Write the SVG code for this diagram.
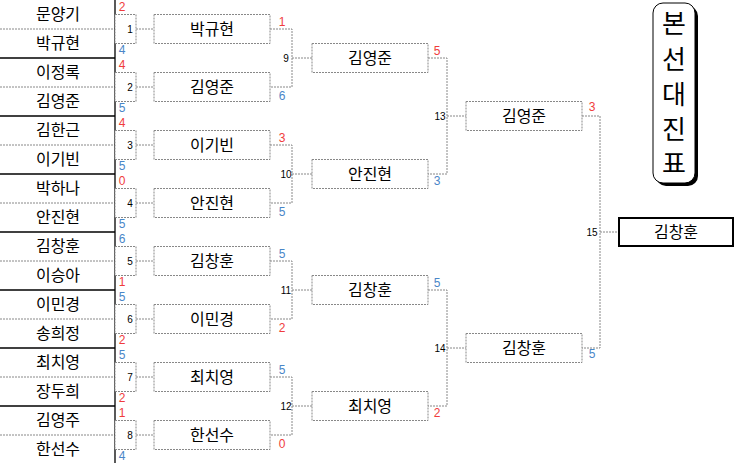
<svg xmlns="http://www.w3.org/2000/svg" width="740" height="463" viewBox="0 0 740 463">
<style>
.bg{fill:#fff}
.n{font-family:"Noto Sans CJK KR","Noto Sans",sans-serif;font-size:16px;text-anchor:middle;fill:#000}
.box{fill:#fff;stroke:#888;stroke-width:1;stroke-dasharray:2,1}
.c{fill:none;stroke:#888;stroke-width:1;stroke-dasharray:2,1}
.d{stroke:#888;stroke-width:1;stroke-dasharray:2,1}
.s{stroke:#000;stroke-width:1.3}
.no{font-family:"Liberation Sans",sans-serif;font-size:10px;text-anchor:middle;fill:#000}
.r{font-family:"Liberation Sans",sans-serif;font-size:12px;text-anchor:middle;fill:#f03c3c}
.b{font-family:"Liberation Sans",sans-serif;font-size:12px;text-anchor:middle;fill:#4a86c8}
.t{font-family:"Noto Sans CJK KR",sans-serif;font-size:26px;text-anchor:middle;fill:#000}
</style>
<rect class="bg" width="740" height="463"/>
<g id="grid">
<line class="d" x1="0" y1="29" x2="115" y2="29"/><line class="d" x1="0" y1="87" x2="115" y2="87"/><line class="d" x1="0" y1="145" x2="115" y2="145"/><line class="d" x1="0" y1="203" x2="115" y2="203"/><line class="d" x1="0" y1="261" x2="115" y2="261"/><line class="d" x1="0" y1="319" x2="115" y2="319"/><line class="d" x1="0" y1="377" x2="115" y2="377"/><line class="d" x1="0" y1="435" x2="115" y2="435"/>
<line class="s" x1="0" y1="58" x2="115" y2="58"/><line class="s" x1="0" y1="116" x2="115" y2="116"/><line class="s" x1="0" y1="174" x2="115" y2="174"/><line class="s" x1="0" y1="232" x2="115" y2="232"/><line class="s" x1="0" y1="290" x2="115" y2="290"/><line class="s" x1="0" y1="348" x2="115" y2="348"/><line class="s" x1="0" y1="406" x2="115" y2="406"/>
<line class="s" x1="115" y1="0" x2="115" y2="463"/>
</g>
<g id="players">
<text class="n" x="58" y="20">문양기</text><text class="n" x="58" y="49">박규현</text><text class="n" x="58" y="78">이정록</text><text class="n" x="58" y="107">김영준</text><text class="n" x="58" y="136">김한근</text><text class="n" x="58" y="165">이기빈</text><text class="n" x="58" y="194">박하나</text><text class="n" x="58" y="223">안진현</text><text class="n" x="58" y="252">김창훈</text><text class="n" x="58" y="281">이승아</text><text class="n" x="58" y="310">이민경</text><text class="n" x="58" y="339">송희정</text><text class="n" x="58" y="368">최치영</text><text class="n" x="58" y="397">장두희</text><text class="n" x="58" y="426">김영주</text><text class="n" x="58" y="455">한선수</text>
</g>
<g id="connectors">
<path class="c" d="M136,29H154M136,87H154M136,145H154M136,203H154M136,261H154M136,319H154M136,377H154M136,435H154"/>
<path class="c" d="M270,29H292V87H270M292,58H312M270,145H292V203H270M292,174H312M270,261H292V319H270M292,290H312M270,377H292V435H270M292,406H312"/>
<path class="c" d="M428,58H447V174H428M447,116H466M428,290H447V406H428M447,348H466"/>
<path class="c" d="M582,116H600V348H582M600,232H619"/>
</g>
<g id="r1">
<rect class="box" x="115" y="14.5" width="21" height="29"/><rect class="box" x="115" y="72.5" width="21" height="29"/><rect class="box" x="115" y="130.5" width="21" height="29"/><rect class="box" x="115" y="188.5" width="21" height="29"/><rect class="box" x="115" y="246.5" width="21" height="29"/><rect class="box" x="115" y="304.5" width="21" height="29"/><rect class="box" x="115" y="362.5" width="21" height="29"/><rect class="box" x="115" y="420.5" width="21" height="29"/>
<text class="no" x="130" y="33">1</text><text class="no" x="130" y="91">2</text><text class="no" x="130" y="149">3</text><text class="no" x="130" y="207">4</text><text class="no" x="130" y="265">5</text><text class="no" x="130" y="323">6</text><text class="no" x="130" y="381">7</text><text class="no" x="130" y="439">8</text>
<text class="r" x="122" y="11">2</text><text class="b" x="122" y="54">4</text>
<text class="r" x="122" y="69">4</text><text class="b" x="122" y="112">5</text>
<text class="r" x="122" y="127">4</text><text class="b" x="122" y="170">5</text>
<text class="r" x="122" y="185">0</text><text class="b" x="122" y="228">5</text>
<text class="b" x="122" y="243">6</text><text class="r" x="122" y="286">1</text>
<text class="b" x="122" y="301">5</text><text class="r" x="122" y="344">2</text>
<text class="b" x="122" y="359">5</text><text class="r" x="122" y="402">2</text>
<text class="r" x="122" y="417">1</text><text class="b" x="122" y="460">4</text>
</g>
<g id="w1">
<rect class="box" x="154" y="14.5" width="116" height="29"/><rect class="box" x="154" y="72.5" width="116" height="29"/><rect class="box" x="154" y="130.5" width="116" height="29"/><rect class="box" x="154" y="188.5" width="116" height="29"/><rect class="box" x="154" y="246.5" width="116" height="29"/><rect class="box" x="154" y="304.5" width="116" height="29"/><rect class="box" x="154" y="362.5" width="116" height="29"/><rect class="box" x="154" y="420.5" width="116" height="29"/>
<text class="n" x="212" y="35">박규현</text><text class="n" x="212" y="93">김영준</text><text class="n" x="212" y="151">이기빈</text><text class="n" x="212" y="209">안진현</text><text class="n" x="212" y="267">김창훈</text><text class="n" x="212" y="325">이민경</text><text class="n" x="212" y="383">최치영</text><text class="n" x="212" y="441">한선수</text>
</g>
<g id="r2">
<text class="no" x="286" y="62">9</text><text class="no" x="286" y="178">10</text><text class="no" x="286" y="294">11</text><text class="no" x="286" y="410">12</text>
<text class="r" x="282" y="26">1</text><text class="b" x="282" y="100">6</text>
<text class="r" x="282" y="142">3</text><text class="b" x="282" y="216">5</text>
<text class="b" x="282" y="258">5</text><text class="r" x="282" y="332">2</text>
<text class="b" x="282" y="374">5</text><text class="r" x="282" y="448">0</text>
<rect class="box" x="312" y="43.5" width="116" height="29"/><rect class="box" x="312" y="159.5" width="116" height="29"/><rect class="box" x="312" y="275.5" width="116" height="29"/><rect class="box" x="312" y="391.5" width="116" height="29"/>
<text class="n" x="370" y="64">김영준</text><text class="n" x="370" y="180">안진현</text><text class="n" x="370" y="296">김창훈</text><text class="n" x="370" y="412">최치영</text>
</g>
<g id="r3">
<text class="no" x="440" y="120">13</text><text class="no" x="440" y="352">14</text>
<text class="r" x="437" y="55">5</text><text class="b" x="437" y="185">3</text>
<text class="b" x="437" y="287">5</text><text class="r" x="437" y="417">2</text>
<rect class="box" x="466" y="101.5" width="116" height="29"/><rect class="box" x="466" y="333.5" width="116" height="29"/>
<text class="n" x="524" y="122">김영준</text><text class="n" x="524" y="354">김창훈</text>
</g>
<g id="final">
<text class="no" x="592" y="236">15</text>
<text class="r" x="592" y="111">3</text><text class="b" x="592" y="358">5</text>
<rect x="619" y="218" width="114" height="28" fill="#fff" stroke="#000" stroke-width="2"/>
<text class="n" x="676" y="238">김창훈</text>
</g>
<g id="title">
<rect x="656" y="6" width="42" height="180" rx="10" fill="#000"/>
<rect x="653" y="3" width="42" height="180" rx="10" fill="#fff" stroke="#000" stroke-width="1"/>
<text class="t" x="674" y="33">본</text><text class="t" x="674" y="69">선</text><text class="t" x="674" y="104">대</text><text class="t" x="674" y="139">진</text><text class="t" x="674" y="173">표</text>
</g>
</svg>
